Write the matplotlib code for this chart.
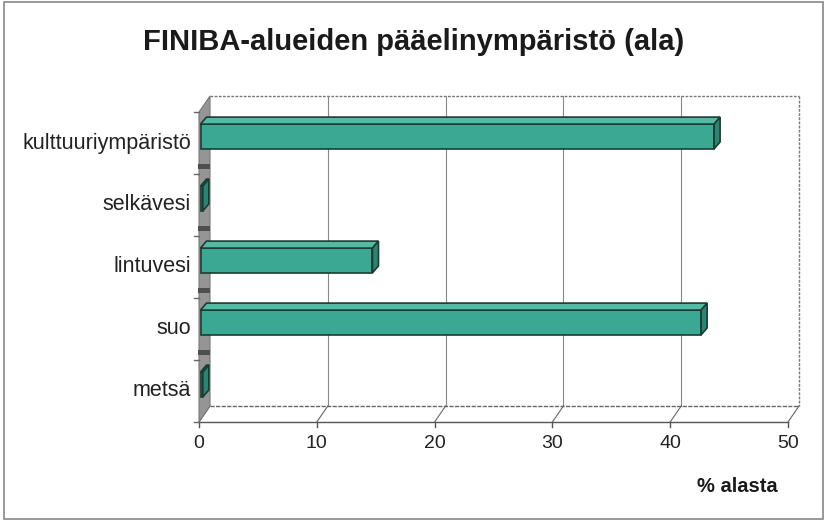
import matplotlib.pyplot as plt
from matplotlib.patches import Polygon, Rectangle

categories = ['kulttuuriympäristö', 'selkävesi', 'lintuvesi', 'suo', 'metsä']
values = [43.6, 0.2, 14.6, 42.5, 0.2]
xticks = [0, 10, 20, 30, 40, 50]

plt.rcParams['font.family'] = ['Liberation Sans', 'DejaVu Sans']

W, H = 827, 522
fig = plt.figure(figsize=(W / 100, H / 100), dpi=100)

# front plane of the 3d box in pixels
L, R, T, B = 199, 788, 112, 422
ax = fig.add_axes([L / W, 1 - B / H, (R - L) / W, (B - T) / H])
ax.set_xlim(0, 50)
ax.set_ylim(4.5, -0.5)
ax.axis('off')

ux = (R - L) / 50.0   # px per x unit
uy = (B - T) / 5.0    # px per category
ddx, ddy = 11 / ux, -16 / uy   # depth of the box
n = len(categories)
y0, y1 = -0.5, n - 0.5

# back wall
ax.add_patch(Polygon([(ddx, y0 + ddy), (50 + ddx, y0 + ddy), (50 + ddx, y1 + ddy), (ddx, y1 + ddy)],
                     closed=True, facecolor='white', edgecolor='none', zorder=0, clip_on=False))
ax.plot([ddx, 50 + ddx], [y0 + ddy, y0 + ddy], color='#777777', lw=1, ls=(0, (2, 1)), clip_on=False, zorder=1)
ax.plot([50 + ddx, 50 + ddx], [y0 + ddy, y1 + ddy], color='#777777', lw=1, ls=(0, (2, 1)), clip_on=False, zorder=1)
for t in xticks[1:-1]:
    ax.plot([t + ddx, t + ddx], [y0 + ddy, y1 + ddy], color='#888888', lw=0.8, clip_on=False, zorder=1)

# floor
ax.plot([ddx, 50 + ddx], [y1 + ddy, y1 + ddy], color='#666666', lw=1, ls=(0, (3, 1)), clip_on=False, zorder=1)
ax.plot([0, 50], [y1, y1], color='#555555', lw=1, clip_on=False, zorder=1)
for t in xticks:
    ax.plot([t, t + ddx], [y1, y1 + ddy], color='#666666', lw=0.8, clip_on=False, zorder=1)
    ax.plot([t, t], [y1, y1 + 5 / uy], color='#555555', lw=1, clip_on=False, zorder=1)
    ax.text(t, y1 + 22 / uy, str(t), ha='center', va='center', fontsize=14, color='#222222')

# left wall
ax.add_patch(Polygon([(0, y0), (ddx, y0 + ddy), (ddx, y1 + ddy), (0, y1)],
                     closed=True, facecolor='#959595', edgecolor='#777777', lw=0.8, zorder=2, clip_on=False))
for k in range(n - 1):
    b = k + 0.5 + ddy / 2
    ax.add_patch(Rectangle((-1 / ux, b - 2.5 / uy), ddx + 1 / ux, 5 / uy, facecolor='#4e4e4e',
                           edgecolor='none', zorder=2, clip_on=False))
for k in range(n + 1):
    b = k - 0.5
    ax.plot([-5 / ux, 0], [b, b], color='#666666', lw=1, clip_on=False, zorder=2)

# bars
bx, by = 1.5 / ux, -6.5 / uy
bdx, bdy = 6 / ux, -7 / uy
h = 0.2
front = '#3aa892'
top = '#52bba4'
side = '#2a8672'
edge = '#1c3c33'
for i, v in enumerate(values):
    yt = i - h + by
    yb = i + h + by
    ax.barh(i + by, v, height=2 * h, left=bx, color=front, edgecolor=edge, lw=1.2, zorder=4, clip_on=False)
    ax.add_patch(Polygon([(bx, yt), (bx + v, yt), (bx + v + bdx, yt + bdy), (bx + bdx, yt + bdy)],
                         closed=True, facecolor=top, edgecolor=edge, lw=1.2, zorder=4, clip_on=False))
    ax.add_patch(Polygon([(bx + v, yt), (bx + v + bdx, yt + bdy), (bx + v + bdx, yb + bdy), (bx + v, yb)],
                         closed=True, facecolor=side, edgecolor=edge, lw=1.2, zorder=4, clip_on=False))
    ax.text(-8 / ux, i, categories[i], ha='right', va='center', fontsize=15.5, color='#222222')

fig.text(0.5, 1 - 42 / H, 'FINIBA-alueiden pääelinympäristö (ala)', ha='center', va='center',
         fontsize=21, fontweight='bold', color='#1a1a1a')
fig.text(737 / W, 1 - 486 / H, '% alasta', ha='center', va='center', fontsize=14.5,
         fontweight='bold', color='#1a1a1a')

fig.patches.append(Rectangle((4 / W, 3 / H), 819 / W, 517 / H, transform=fig.transFigure,
                             fill=False, edgecolor='#888888', lw=1.2))

fig.savefig('out.png', dpi=100)
